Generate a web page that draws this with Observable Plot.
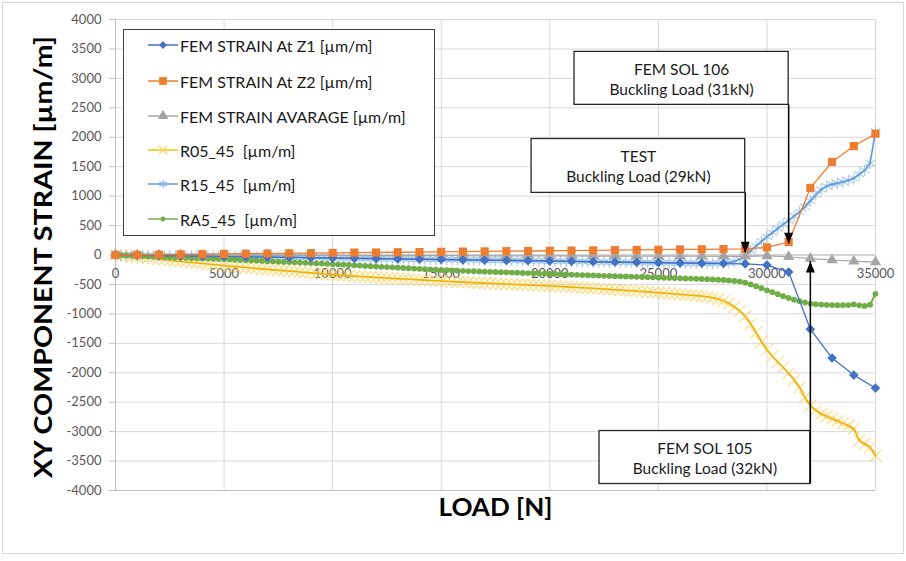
<!DOCTYPE html>
<html><head><meta charset="utf-8">
<script src="https://cdn.jsdelivr.net/npm/d3@7"></script>
<script src="https://cdn.jsdelivr.net/npm/@observablehq/plot@0.6"></script>
<style>
body{margin:0;background:#fff;font-family:Lato,"Open Sans",sans-serif;}
#wrap{position:relative;width:906px;height:561px;overflow:hidden}
#wrap svg.plot{position:absolute;left:0;top:0}
#border{position:absolute;left:2px;top:2px;width:900px;height:550px;border:1px solid #d9d9d9;pointer-events:none}
#legend{position:absolute;left:123px;top:29px;width:310px;height:205px;border:1px solid #404040;background:#fff;}
.item{position:absolute;left:24px;height:22px;display:flex;align-items:center;font-size:16px;color:#1a1a1a;white-space:pre}
.item svg{margin-right:1px}
</style></head><body><div id="wrap"><div id="border"></div></div>
<script>
// ---------- data ----------
const femLoads = d3.range(0, 35001, 1000);      // FEM load steps [N]
const testLoads = d3.range(0, 35001, 250);      // test sampling steps [N]

const femZ1 = [0,-5,-10,-15,-21,-26,-31,-36,-41,-46,-52,-57,-62,-67,-72,-77,-83,-88,-93,-98,-103,-108,-114,-119,-124,-129,-134,-139,-145,-150,-170,-290,-1260,-1750,-2040,-2260];
const femZ2 = [0,4,7,11,14,18,22,25,29,32,36,40,43,47,50,54,58,61,65,68,72,76,79,83,86,90,94,97,101,105,130,220,1140,1580,1850,2060];
const femAvg = [0,-1,-2,-2,-4,-4,-5,-6,-6,-7,-8,-9,-10,-10,-11,-12,-13,-14,-14,-15,-16,-16,-18,-18,-19,-20,-20,-21,-22,-23,-15,-30,-60,-85,-105,-120];

const r05 = [
 0,-8,-17,-26,-35,-44,-52,-61,-70,-80,
 -90,-100,-110,-118,-127,-136,-145,-154,-162,-171,
 -180,-190,-198,-205,-212,-220,-228,-236,-244,-252,
 -259,-266,-273,-281,-289,-296,-303,-311,-318,-326,
 -334,-340,-346,-352,-358,-364,-370,-376,-382,-387,
 -392,-397,-402,-407,-412,-417,-422,-427,-432,-437,
 -442,-447,-452,-457,-461,-465,-469,-473,-477,-481,
 -485,-489,-493,-497,-501,-505,-509,-513,-517,-521,
 -526,-531,-536,-541,-546,-551,-556,-561,-566,-572,
 -578,-584,-590,-596,-602,-608,-614,-620,-627,-634,
 -641,-648,-655,-662,-669,-676,-683,-690,-698,-710,
 -725,-748,-780,-825,-880,-950,-1040,-1170,-1320,-1470,
 -1610,-1720,-1820,-1910,-2010,-2120,-2250,-2420,-2560,-2640,
 -2700,-2740,-2780,-2820,-2860,-2900,-2950,-3150,-3210,-3260,
 -3410];
const r15 = [
 0,-1,-3,-4,-5,-6,-8,-9,-10,-11,
 -13,-14,-15,-16,-18,-19,-20,-21,-23,-24,
 -25,-26,-28,-29,-30,-31,-33,-34,-35,-36,
 -38,-39,-40,-41,-43,-44,-45,-46,-48,-49,
 -50,-51,-53,-54,-55,-56,-58,-59,-60,-61,
 -63,-64,-65,-66,-68,-69,-70,-71,-73,-74,
 -75,-76,-78,-79,-80,-81,-83,-84,-85,-86,
 -88,-89,-90,-91,-93,-94,-95,-96,-98,-99,
 -100,-102,-104,-106,-108,-110,-112,-114,-116,-118,
 -119,-120,-121,-122,-124,-125,-126,-127,-128,-129,
 -130,-131,-133,-135,-136,-137,-138,-140,-141,-142,
 -142,-140,-136,-128,-110,-70,-10,70,150,230,
 310,380,450,520,590,660,730,820,920,1020,
 1110,1170,1200,1220,1240,1270,1300,1370,1440,1560,
 2100];
const ra5 = [
 0,-4,-8,-11,-15,-19,-23,-26,-30,-34,
 -38,-41,-45,-48,-51,-54,-57,-60,-63,-66,
 -70,-75,-80,-85,-89,-93,-97,-101,-105,-109,
 -113,-117,-121,-125,-129,-133,-137,-141,-145,-150,
 -155,-160,-165,-170,-175,-180,-185,-190,-195,-200,
 -205,-210,-215,-220,-225,-230,-235,-240,-245,-250,
 -255,-259,-262,-266,-269,-273,-276,-280,-283,-286,
 -289,-292,-295,-298,-301,-304,-307,-310,-313,-316,
 -320,-323,-327,-330,-334,-337,-341,-344,-347,-350,
 -353,-356,-359,-362,-365,-368,-371,-374,-377,-380,
 -383,-386,-389,-392,-395,-398,-401,-404,-408,-412,
 -416,-420,-425,-432,-440,-452,-470,-500,-530,-565,
 -600,-630,-665,-700,-730,-760,-785,-805,-825,-835,
 -842,-847,-850,-852,-852,-850,-840,-855,-865,-845,
 -660];

const xTicks = [0,5000,10000,15000,20000,25000,30000,35000];
const yTicks = [-4000,-3500,-3000,-2500,-2000,-1500,-1000,-500,0,500,1000,1500,2000,2500,3000,3500,4000];

const seriesNames = ["FEM STRAIN At Z1 [µm/m]","FEM STRAIN At Z2 [µm/m]","FEM STRAIN AVARAGE [µm/m]","R05_45  [µm/m]","R15_45  [µm/m]","RA5_45  [µm/m]"];
const seriesColors = ["#4472C4","#ED7D31","#A5A5A5","#FFC000","#5B9BD5","#70AD47"];

const yTitle = "XY COMPONENT STRAIN [µm/m]";
const xTitle = "LOAD [N]";

const noteTexts = ["FEM SOL 106\nBuckling Load (31kN)","TEST\nBuckling Load (29kN)","FEM SOL 105\nBuckling Load (32kN)"];
const noteX1 = [21140, 19160, 22290];
const noteX2 = [31000, 29000, 32000];
const noteYTop = [3450, 1970, -2990];
const noteYBottom = [2550, 1055, -3890];
const arrowFrom = [2550, 1055, -3890];
const arrowTo = [190, 40, -110];

// ---------- build ----------
const mk = (xs, ys) => xs.map((x, i) => ({x, y: ys[i]}));
const dZ1 = mk(femLoads, femZ1), dZ2 = mk(femLoads, femZ2), dAvg = mk(femLoads, femAvg);
const dR05 = mk(testLoads, r05), dR15 = mk(testLoads, r15), dRA5 = mk(testLoads, ra5);
const notes = noteTexts.map((t, i) => ({text: t, x1: noteX1[i], x2: noteX2[i], y1: noteYTop[i], y2: noteYBottom[i], ay1: arrowFrom[i], ay2: arrowTo[i], up: arrowTo[i] > arrowFrom[i]}));

const headDown = {draw(c){ c.moveTo(0,0); c.lineTo(-4.5,-11); c.lineTo(4.5,-11); c.closePath(); }};
const headUp = {draw(c){ c.moveTo(0,0); c.lineTo(-4.5,11); c.lineTo(4.5,11); c.closePath(); }};

const chart = Plot.plot({
  width: 906, height: 561,
  marginLeft: 115, marginRight: 31, marginTop: 19, marginBottom: 71,
  x: {domain: [0, 35000], axis: null},
  y: {domain: [-4000, 4000], axis: null},
  style: {fontFamily: "Lato, 'Open Sans', sans-serif", fontSize: "13px", background: "transparent", overflow: "visible"},
  marks: [
    Plot.ruleY(yTicks, {stroke: "#d9d9d9", strokeWidth: 1}),
    Plot.ruleX(xTicks, {stroke: "#d9d9d9", strokeWidth: 1}),
    Plot.ruleY([-4000], {stroke: "#bfbfbf"}),
    Plot.ruleY([0], {stroke: "#bfbfbf"}),
    Plot.ruleX([0], {stroke: "#bfbfbf"}),
    Plot.axisY(yTicks, {tickSize: 6, tickPadding: 8, label: null, tickFormat: d => String(d), fontSize: 13, stroke: "#bfbfbf", fill: "#595959"}),
    Plot.text(xTicks, {x: d => d, y: 0, dy: 19, text: d => String(d), fontSize: 13, fill: "#595959"}),
    // test series
    Plot.dot(dR05, {x: "x", y: "y", symbol: "times", r: 5.5, stroke: "#F9CF55", strokeWidth: 1.1, strokeOpacity: 0.7}),
    Plot.line(dR05, {x: "x", y: "y", stroke: "#EDB100", strokeWidth: 1.6}),
    Plot.dot(dR15, {x: "x", y: "y", symbol: "asterisk", r: 5.5, stroke: "#8DB8E2", strokeWidth: 1.1, strokeOpacity: 0.75}),
    Plot.line(dR15, {x: "x", y: "y", stroke: "#5B9BD5", strokeWidth: 1.6}),
    Plot.line(dRA5, {x: "x", y: "y", stroke: "#70AD47", strokeWidth: 2}),
    Plot.dot(dRA5, {x: "x", y: "y", symbol: "circle", r: 2.9, fill: "#70AD47"}),
    // FEM series
    Plot.line(dAvg, {x: "x", y: "y", stroke: "#A5A5A5", strokeWidth: 1.2}),
    Plot.dot(dAvg, {x: "x", y: "y", symbol: "triangle", r: 4.2, fill: "#A5A5A5"}),
    Plot.line(dZ1, {x: "x", y: "y", stroke: "#4472C4", strokeWidth: 1.3}),
    Plot.dot(dZ1, {x: "x", y: "y", symbol: "diamond2", r: 3.4, fill: "#4472C4", stroke: "#4472C4"}),
    Plot.line(dZ2, {x: "x", y: "y", stroke: "#ED7D31", strokeWidth: 1.3}),
    Plot.dot(dZ2, {x: "x", y: "y", symbol: "square", r: 4.6, fill: "#ED7D31"}),
    // annotations
    Plot.rect(notes, {x1: "x1", x2: "x2", y1: "y1", y2: "y2", fill: "white", stroke: "#262626", strokeWidth: 1.3}),
    Plot.text(notes, {x: d => (d.x1 + d.x2) / 2, y: d => (d.y1 + d.y2) / 2, text: "text", fontSize: 15.5, lineHeight: 1.3, fill: "#1a1a1a"}),
    Plot.ruleX(notes, {x: "x2", y1: "ay1", y2: "ay2", stroke: "#000", strokeWidth: 1.5}),
    Plot.dot(notes.filter(d => !d.up), {x: "x2", y: "ay2", symbol: headDown, fill: "#000", stroke: "none"}),
    Plot.dot(notes.filter(d => d.up), {x: "x2", y: "ay2", symbol: headUp, fill: "#000", stroke: "none"}),
    // titles
    Plot.text([yTitle], {frameAnchor: "left", textAnchor: "middle", dx: -72, dy: 2, rotate: -90, fontSize: 25, fontWeight: "bold", fill: "#000"}),
    Plot.text([xTitle], {frameAnchor: "bottom", textAnchor: "middle", dy: 25, fontSize: 25, fontWeight: "bold", fill: "#000"})
  ]
});
chart.classList.add("plot");
// fit title lengths to the reference
d3.select(chart).selectAll("text").each(function() {
  const t = this.textContent;
  if (t === yTitle) d3.select(this).attr("textLength", 442).attr("lengthAdjust", "spacingAndGlyphs");
  if (t === xTitle) d3.select(this).attr("textLength", 114).attr("lengthAdjust", "spacingAndGlyphs");
});
const wrap = document.getElementById("wrap");
wrap.insertBefore(chart, wrap.firstChild);

// legend
const legend = d3.select(wrap).append("div").attr("id", "legend");
const symbols = [d3.symbolDiamond2, d3.symbolSquare, d3.symbolTriangle, d3.symbolTimes, d3.symbolAsterisk, d3.symbolCircle];
const symSizes = [40, 60, 50, 50, 50, 18];
const rowCenters = [15, 51, 86, 120, 154, 189];
seriesNames.forEach((name, i) => {
  const it = legend.append("div").attr("class", "item").style("top", (rowCenters[i] - 11) + "px");
  const s = it.append("svg").attr("width", 31).attr("height", 14);
  s.append("line").attr("x1", 0).attr("x2", 30).attr("y1", 7).attr("y2", 7).attr("stroke", seriesColors[i]).attr("stroke-width", 1.5);
  const stroked = i === 3 || i === 4;
  s.append("path").attr("transform", "translate(15,7)").attr("d", d3.symbol(symbols[i], symSizes[i])())
    .attr("fill", stroked ? "none" : seriesColors[i])
    .attr("stroke", stroked ? (i === 3 ? "#F9CF55" : "#8DB8E2") : "none").attr("stroke-width", 1.2);
  it.append("span").text(name);
});
</script>
</body></html>
